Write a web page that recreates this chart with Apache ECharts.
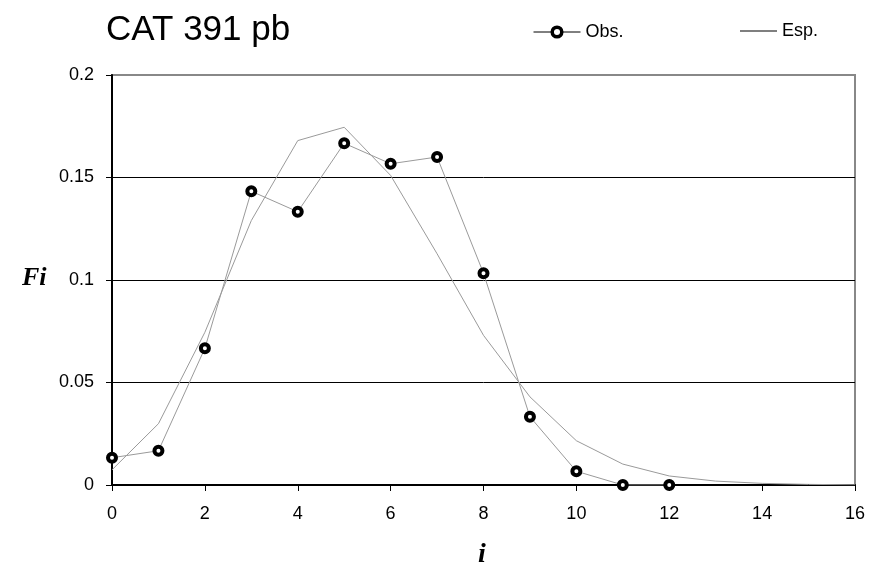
<!DOCTYPE html>
<html>
<head>
<meta charset="utf-8">
<script src="https://cdn.jsdelivr.net/npm/echarts@6/dist/echarts.min.js"></script>
<style>html,body{margin:0;padding:0;background:#fff}#c{width:872px;height:572px}</style>
</head>
<body>
<div id="c"></div>
<script>
var xValues = [0,1,2,3,4,5,6,7,8,9,10,11,12,13,14,15,16];
var obsValues = [0.0133,0.0167,0.0667,0.1433,0.1333,0.1667,0.1567,0.16,0.1033,0.0333,0.0067,0,0];
var espValues = [0.0074,0.0299,0.0745,0.129,0.168,0.1745,0.151,0.1128,0.073,0.043,0.0216,0.0102,0.0044,0.0019,0.0008,0.0003,0.0001];
var titleText = 'CAT 391 pb';
var yName = 'Fi';
var xName = 'i';

var obsData = obsValues.map(function(v,i){return [xValues[i], v];});
var espData = espValues.map(function(v,i){return [xValues[i], v];});
var sans = '"Liberation Sans", Arial, sans-serif';
var serif = '"Liberation Serif", "Times New Roman", serif';

var chart = echarts.init(document.getElementById('c'), null, {renderer:'canvas'});
chart.setOption({
  animation: false,
  backgroundColor: '#fff',
  title: {
    text: titleText, left: 106, top: 13, padding: 0,
    textStyle: {fontFamily: sans, fontSize: 35, fontWeight: 'normal', color: '#000'}
  },
  legend: [
    {data: ['Obs.'],
     lineStyle: {color: '#000', width: 1},
     itemStyle: {color: '#fff', borderColor: '#000', borderWidth: 3.5},
     left: 533, top: 23, padding: 0, itemWidth: 47, itemHeight: 12, itemGap: 6,
     textStyle: {fontFamily: sans, fontSize: 18, color: '#000'}},
    {data: [{name: 'Esp.', icon: 'rect'}],
     itemStyle: {color: '#000'},
     left: 740, top: 22, padding: 0, itemWidth: 37, itemHeight: 1, itemGap: 6,
     textStyle: {fontFamily: sans, fontSize: 18, color: '#000'}}
  ],
  grid: {left: 112, right: 17, top: 75, bottom: 87, show: true, borderColor: '#888', borderWidth: 2, backgroundColor: '#fff'},
  xAxis: {
    type: 'value', min: 0, max: 16, interval: 2,
    axisLine: {show: true, onZero: false, lineStyle: {color: '#000', width: 2}},
    axisTick: {show: true, length: 6, lineStyle: {color: '#000', width: 1}},
    axisLabel: {margin: 20, color: '#000', fontFamily: sans, fontSize: 18},
    splitLine: {show: false}
  },
  yAxis: {
    type: 'value', min: 0, max: 0.2, interval: 0.05,
    axisLine: {show: true, lineStyle: {color: '#000', width: 2}},
    axisTick: {show: true, length: 6, lineStyle: {color: '#000', width: 1}},
    axisLabel: {margin: 18, color: '#000', fontFamily: sans, fontSize: 18},
    splitLine: {show: true, showMaxLine: false, lineStyle: {color: '#000', width: 1}}
  },
  graphic: [
    {type: 'text', left: 22, top: 265, style: {text: yName, font: 'bold italic 26px ' + serif, fill: '#000'}},
    {type: 'text', left: 478, top: 541, style: {text: xName, font: 'bold italic 28px ' + serif, fill: '#000'}}
  ],
  series: [
    {name: 'Esp.', type: 'line', data: espData, symbol: 'none', z: 2,
     lineStyle: {color: '#9a9a9a', width: 1}, itemStyle: {color: '#9a9a9a'}},
    {name: 'Obs.', type: 'line', data: obsData, symbol: 'circle', symbolSize: 8, z: 3,
     lineStyle: {color: '#9a9a9a', width: 1},
     itemStyle: {color: '#fff', borderColor: '#000', borderWidth: 4}}
  ]
});
</script>
</body>
</html>
